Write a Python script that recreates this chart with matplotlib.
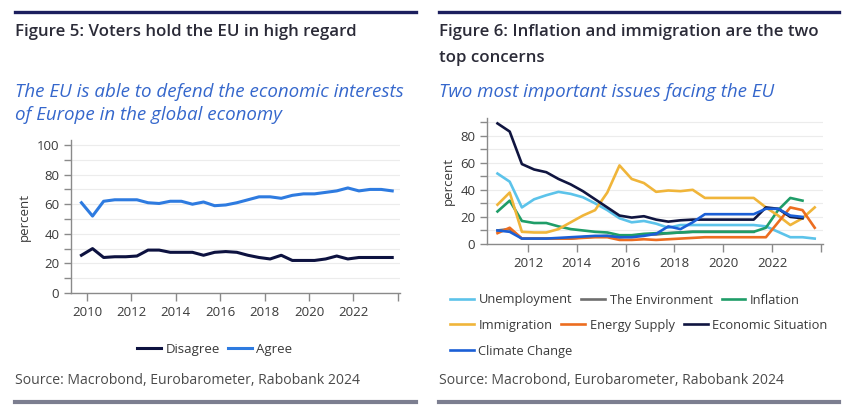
import matplotlib
matplotlib.use('Agg')
from matplotlib import pyplot as plt
from matplotlib.lines import Line2D
from matplotlib.ticker import MultipleLocator
import numpy as np

plt.rcParams['font.family'] = ['Open Sans', 'DejaVu Sans']

# Figure 5: EU defends economic interests (Eurobarometer waves)
waves_l = [2009.75, 2010.25, 2010.75, 2011.25, 2011.75, 2012.25, 2012.75,
           2013.25, 2013.75, 2014.25, 2014.75, 2015.25, 2015.75, 2016.25,
           2016.75, 2017.25, 2017.75, 2018.25, 2018.75, 2019.25, 2019.75,
           2020.25, 2020.75, 2021.25, 2021.75, 2022.25, 2022.75, 2023.25,
           2023.75]
disagree = [25.5, 30, 24, 24.5, 24.5, 25, 29, 29, 27.5, 27.5, 27.5, 25.5,
            27.5, 28, 27.5, 25.5, 24, 23, 25.5, 22, 22, 22, 23, 25, 23, 24,
            24, 24, 24]
agree = [61, 52, 62, 63, 63, 63, 61, 60.5, 62, 62, 60, 61.5, 59, 59.5, 61,
         63, 65, 65, 64, 66, 67, 67, 68, 69, 71, 69, 70, 70, 69]

# Figure 6: two most important issues facing the EU
waves_r = [2010.75, 2011.25, 2011.75, 2012.25, 2012.75, 2013.25, 2013.75,
           2014.25, 2014.75, 2015.25, 2015.75, 2016.25, 2016.75, 2017.25,
           2017.75, 2018.25, 2018.75, 2019.25, 2019.75, 2020.25, 2020.75,
           2021.25, 2021.75, 2022.25, 2022.75, 2023.25, 2023.75]
nan = np.nan
unemployment = [52, 46, 27, 33, 36, 38.5, 37, 34.5, 30, 25, 19, 16, 17, 15,
                12, 14, 14, 14, 14, 14, 14, 14, 13, 9, 5, 5, 4]
environment = [10, 11, 4, 4, 4, 4, 4, 5, 5.5, 6, 5, 6, 7, 7, 8, 8.5, 9, 9,
               9, 9, 9, 9, nan, nan, nan, nan, nan]
inflation = [24, 32, 17, 15.5, 15.5, 13, 11, 10, 9, 8.5, 6.5, 6.5, 7.5, 8,
             8, 8.5, 9, 9, 9, 9, 9, 9, 12, 25, 34, 32, nan]
immigration = [29, 38, 9, 8.5, 8.5, 11, 16, 21, 25, 38, 58, 48, 45, 38.5,
               39.5, 39, 40, 34, 34, 34, 34, 34, 27, 21, 14, 19, 27]
energy = [8, 12, 4, 4, 4, 4, 4, 4.5, 5, 5, 3, 3, 3.5, 3, 3.5, 4, 4.5, 5, 5,
          5, 5, 5, 5, 16, 27, 25, 12]
economic = [89, 83, 59, 55, 53, 48, 44, 39, 33, 27, 21, 19.5, 20.5, 18,
            16.5, 17.5, 18, 18, 18, 18, 18, 18, 27, 26, 20, 19, nan]
climate = [10, 9, 4, 4, 4, 4.5, 5, 5.5, 6, 6, 5, 5, 6, 7.5, 13, 11, 16, 22,
           22, 22, 22, 22, 26, 26, 21, 20, nan]

issues = [
    ('Unemployment', unemployment, '#5cc3ea'),
    ('The Environment', environment, '#6e6e6e'),
    ('Inflation', inflation, '#1f9d68'),
    ('Immigration', immigration, '#f0b53a'),
    ('Energy Supply', energy, '#ec6d20'),
    ('Economic Situation', economic, '#101540'),
    ('Climate Change', climate, '#1b5fd6'),
]

W, H = 848, 412
TITLE = '#2b2b38'
SUB = '#3567cc'
TICK = '#3a3a3a'


def fx(px):
    return px / W


def fy(py):
    return 1 - py / H


def _style_axes(ax, ymax, ymajor):
    ax.set_ylim(0, ymax)
    ax.yaxis.set_major_locator(MultipleLocator(ymajor))
    ax.yaxis.set_minor_locator(MultipleLocator(10))
    ax.grid(axis='y', which='both', color='#ececec', lw=0.8)
    ax.set_axisbelow(True)
    for s in ('top', 'right'):
        ax.spines[s].set_visible(False)
    for s in ('left', 'bottom'):
        ax.spines[s].set_color('#8a8a8a')
        ax.spines[s].set_linewidth(1.0)
    ax.tick_params(which='both', colors='#8a8a8a', labelcolor=TICK,
                   labelsize=9.5, width=1.0)
    ax.tick_params(axis='y', which='both', length=5)
    ax.tick_params(axis='x', length=6)
    ax.set_ylabel('percent', fontsize=9.5, color=TICK, labelpad=4)


fig = plt.figure(figsize=(W / 100, H / 100), dpi=100)

# ---- left panel
axl = fig.add_axes([fx(71), fy(293), fx(400 - 71), (293 - 140) / H])
axl.plot(waves_l, disagree, color='#0d1240', lw=2.2, label='Disagree')
axl.plot(waves_l, agree, color='#2e7be0', lw=2.2, label='Agree')
axl.set_xlim(2009.28, 2024.1)
_style_axes(axl, 103.4, 20)
xt = list(range(2010, 2025, 2))
axl.set_xticks(xt)
axl.set_xticklabels([str(y) for y in xt[:-1]] + [''])

# ---- right panel
axr = fig.add_axes([fx(487), fy(244), fx(823 - 487), (244 - 118) / H])
handles = {}
for name, vals, col in issues:
    handles[name], = axr.plot(waves_r, vals, color=col, lw=1.9, label=name)
axr.set_xlim(2010.32, 2024.09)
_style_axes(axr, 93, 20)
xt = list(range(2012, 2025, 2))
axr.set_xticks(xt)
axr.set_xticklabels([str(y) for y in xt[:-1]] + [''])

# ---- titles, rules, sources
for x0, x1 in ((15, 416), (439, 839)):
    fig.add_artist(Line2D([fx(x0), fx(x1)], [fy(12)] * 2, color='#1c1f5e',
                          lw=2.4))
    fig.add_artist(Line2D([fx(x0), fx(x1)], [fy(402)] * 2, color='#7c7e90',
                          lw=3.0))
    fig.text(fx(x0), fy(381), 'Source: Macrobond, Eurobarometer, Rabobank 2024',
             fontsize=10.1, color='#4a4a4a', va='center')

tkw = dict(fontsize=12.2, fontweight='semibold', color=TITLE, va='center')
skw = dict(fontsize=13.5, style='italic', color=SUB, va='center')
fig.text(fx(15), fy(32), 'Figure 5: Voters hold the EU in high regard', **tkw)
fig.text(fx(439), fy(32), 'Figure 6: Inflation and immigration are the two',
         **tkw)
fig.text(fx(439), fy(58), 'top concerns', **tkw)
fig.text(fx(15), fy(92), 'The EU is able to defend the economic interests',
         **skw)
fig.text(fx(15), fy(115), 'of Europe in the global economy', **skw)
fig.text(fx(439), fy(92), 'Two most important issues facing the EU', **skw)

# ---- legends
leg_kw = dict(frameon=False, borderpad=0, borderaxespad=0, labelcolor=TICK)
fig.legend(*axl.get_legend_handles_labels(), loc='center',
           bbox_to_anchor=(fx(215), fy(349)), ncol=2, fontsize=9.5,
           handlelength=1.8, handletextpad=0.35, columnspacing=0.6, **leg_kw)

rows = [['Unemployment', 'The Environment', 'Inflation'],
        ['Immigration', 'Energy Supply', 'Economic Situation'],
        ['Climate Change']]
for i, row in enumerate(rows):
    fig.legend([handles[n] for n in row], row, loc='center left',
               bbox_to_anchor=(fx(450), fy(300 + 25.5 * i)), ncol=len(row),
               fontsize=9.3, handlelength=1.85, handletextpad=0.35,
               columnspacing=0.7, **leg_kw)

fig.savefig('out.png', dpi=100)
